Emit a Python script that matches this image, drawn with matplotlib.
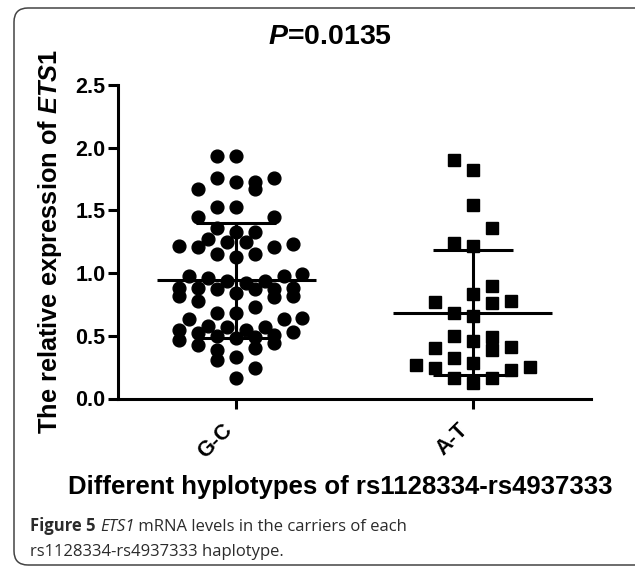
import numpy as np
import matplotlib
matplotlib.use("Agg")
import matplotlib.pyplot as plt
from matplotlib.patches import FancyBboxPatch
from matplotlib.transforms import IdentityTransform

plt.rcParams["font.family"] = ["Liberation Sans", "DejaVu Sans"]
plt.rcParams["mathtext.fontset"] = "custom"
plt.rcParams["mathtext.it"] = "Liberation Sans:italic:bold"
plt.rcParams["mathtext.rm"] = "Liberation Sans:bold"

groups = ["G-C", "A-T"]

# values, with the horizontal column of each dot (in steps)
gc_values = [1.93, 1.93, 1.76, 1.73, 1.73, 1.76, 1.67, 1.67, 1.53, 1.53, 1.45, 1.45,
             1.36, 1.33, 1.33, 1.27, 1.25, 1.25, 1.22, 1.21, 1.21, 1.23, 1.15, 1.15, 1.13,
             0.98, 0.96, 0.94, 0.92, 0.94, 0.98, 0.99,
             0.885, 0.82, 0.88, 0.78, 0.87, 0.84, 0.87, 0.87, 0.81, 0.885, 0.82,
             0.73, 0.68, 0.68, 0.63, 0.63, 0.64,
             0.58, 0.57, 0.55, 0.57,
             0.55, 0.47, 0.52, 0.43, 0.50, 0.485, 0.49, 0.405, 0.51, 0.44, 0.53,
             0.39, 0.31, 0.33, 0.24, 0.165]
gc_cols = [-2, 0, -2, 0, 2, 4, -4, 2, -2, 0, -4, 4,
           -2, 0, 2, -3, -1, 1, -6, -4, 4, 6, -2, 2, 0,
           -5, -3, -1, 1, 3, 5, 7,
           -6, -6, -4, -4, -2, 0, 2, 4, 4, 6, 6,
           2, -2, 0, -5, 5, 7,
           -3, -1, 1, 3,
           -6, -6, -4, -4, -2, 0, 2, 2, 4, 4, 6,
           -2, -2, 0, 2, 0]

at_values = [1.90, 1.82, 1.54, 1.36, 1.24, 1.22, 0.90, 0.83, 0.77, 0.76, 0.78,
             0.685, 0.66, 0.50, 0.46, 0.49, 0.39, 0.405, 0.41, 0.325, 0.285,
             0.27, 0.24, 0.23, 0.25, 0.16, 0.12, 0.16]
at_cols = [-2, 0, 0, 2, -2, 0, 2, 0, -4, 2, 4,
           -2, 0, -2, 0, 2, 2, -4, 4, -2, 0,
           -6, -4, 4, 6, -2, 0, 2]

means = [0.944, 0.685]
sds = [0.458, 0.50]

fig = plt.figure(figsize=(6.35, 5.68), dpi=100)
ax = fig.add_axes([118 / 635, 1 - 398.5 / 568, 473 / 635, 313.5 / 568])

step = 0.04
ax.plot(0 + np.array(gc_cols) * step, gc_values, "o", ms=9.2, color="black",
        mec="black", clip_on=False)
ax.plot(1 + np.array(at_cols) * step, at_values, "s", ms=8.6, color="black",
        mec="black", clip_on=False)

for i, (m, s) in enumerate(zip(means, sds)):
    ax.hlines(m, i - 0.337, i + 0.337, color="black", lw=2.2)
    ax.vlines(i, m - s, m + s, color="black", lw=2.2)
    ax.hlines([m - s, m + s], i - 0.17, i + 0.17, color="black", lw=2.2)

ax.set_xlim(-0.5, 1.5)
ax.set_ylim(0, 2.5)
ax.set_yticks(np.arange(0, 2.51, 0.5))
ax.set_yticklabels([f"{v:.1f}" for v in np.arange(0, 2.51, 0.5)],
                   fontsize=15.5, fontweight="bold")
ax.set_xticks([0, 1])
ax.set_xticklabels(groups, rotation=45, ha="right", fontsize=15.5, fontweight="bold")
for side in ["top", "right"]:
    ax.spines[side].set_visible(False)
for side in ["left", "bottom"]:
    ax.spines[side].set_linewidth(2.2)
ax.tick_params(direction="out", length=7, width=2.2, pad=2)
ax.tick_params(axis="x", pad=8)

fig.text(330 / 635, 1 - 37 / 568, "$P$=0.0135", ha="center", va="center",
         fontsize=20.5, fontweight="bold")
fig.text(50 / 635, 1 - 242 / 568, "The relative expression of $\\it{ETS1}$",
         rotation=90, ha="center", va="center", fontsize=18.3, fontweight="bold")
fig.text(340 / 635, 1 - 494 / 568, "Different hyplotypes of rs1128334-rs4937333",
         ha="center", va="baseline", fontsize=18.5, fontweight="bold")

# caption, drawn piece by piece so each part keeps its own style
cap_color = "#2b2b2b"
cap_font = "Open Sans"
cap_size = 12
renderer = fig.canvas.get_renderer()
x = 30 / 635
pieces = [("Figure 5 ", "bold", "normal"), ("ETS1", "normal", "italic"),
          (" mRNA levels in the carriers of each", "normal", "normal")]
for txt, weight, style in pieces:
    t = fig.text(x, 1 - 531 / 568, txt, ha="left", va="baseline", fontsize=cap_size,
                 fontweight=weight, fontstyle=style, family=cap_font, color=cap_color)
    bb = t.get_window_extent(renderer=renderer)
    x = bb.x1 / fig.bbox.width
fig.text(30 / 635, 1 - 556 / 568, "rs1128334-rs4937333 haplotype.", ha="left",
         va="baseline", fontsize=cap_size, family=cap_font, color=cap_color)

border = FancyBboxPatch((14, 3), 700, 557, boxstyle="round,pad=0,rounding_size=14",
                        transform=IdentityTransform(), fill=False, ec="#444444", lw=1.1)
fig.patches.append(border)

fig.savefig("out.png", dpi=100)
